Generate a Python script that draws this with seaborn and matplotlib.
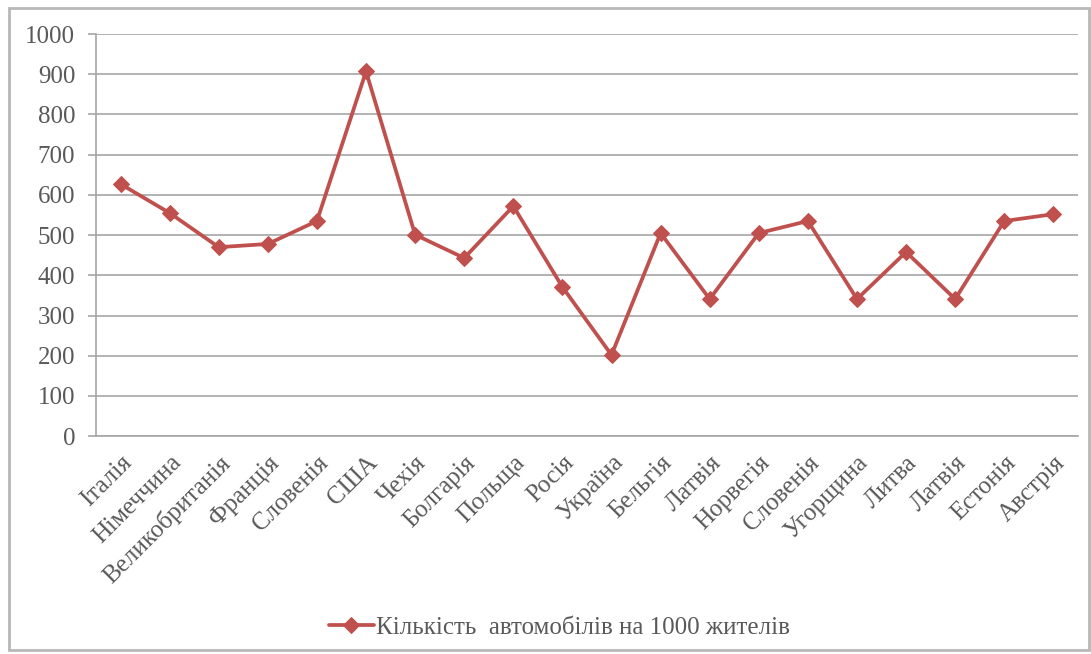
import matplotlib
matplotlib.use("Agg")
import matplotlib.pyplot as plt
import seaborn as sns
import pandas as pd
from matplotlib.patches import Rectangle

countries = ["Італія", "Німеччина", "Великобританія", "Франція", "Словенія", "США",
             "Чехія", "Болгарія", "Польща", "Росія", "Україна", "Бельгія", "Латвія",
             "Норвегія", "Словенія", "Угорщина", "Литва", "Латвія", "Естонія", "Австрія"]
cars_per_1000 = [627, 555, 470, 478, 535, 907, 501, 443, 572, 371, 202, 505, 341,
                 505, 535, 341, 458, 341, 535, 552]
series_name = "Кількість  автомобілів на 1000 жителів"
y_ticks = list(range(0, 1001, 100))

df = pd.DataFrame({"pos": range(len(countries)), "value": cars_per_1000})

sns.set_theme(style="white")
plt.rcParams['font.family'] = ['Liberation Serif', 'DejaVu Serif']

fig = plt.figure(figsize=(10.91, 6.54), dpi=100)
# chart frame like Excel
fig.patches.append(Rectangle((0.008, 0.006), 0.99, 0.982, transform=fig.transFigure,
                             fill=False, edgecolor="#b8b8b8", linewidth=2.0))
ax = fig.add_axes([0.088, 0.333, 0.9, 0.615])

sns.lineplot(data=df, x="pos", y="value", ax=ax, color="#c0504d", linewidth=2.7,
             marker="D", markersize=8, markeredgecolor="#c0504d", label=series_name)

ax.set_xlim(-0.5, len(countries) - 0.5)
ax.set_ylim(0, 1000)
ax.set_yticks(y_ticks)
ax.set_yticklabels([str(t) for t in y_ticks], fontsize=18, color="#595959")
ax.yaxis.grid(True, color="#a6a6a6", linewidth=1.2)
ax.set_axisbelow(True)

ax.set_xticks(range(len(countries)))
ax.set_xticklabels(countries, rotation=45, ha="right", rotation_mode="anchor",
                   fontsize=18, color="#595959")
ax.set_xticks([i - 0.5 for i in range(len(countries) + 1)], minor=True)
ax.tick_params(axis="x", which="major", length=0, pad=11)
ax.tick_params(axis="x", which="minor", length=6, color="#a6a6a6", width=1.2)
ax.tick_params(axis="y", length=6, color="#a6a6a6", width=1.2, left=True, pad=9)

for side in ["top", "right"]:
    ax.spines[side].set_visible(False)
for side in ["left", "bottom"]:
    ax.spines[side].set_color("#a6a6a6")
    ax.spines[side].set_linewidth(1.2)

ax.set_xlabel("")
ax.set_ylabel("")
leg = ax.legend(loc="center", bbox_to_anchor=(0.513, 0.04), bbox_transform=fig.transFigure,
                frameon=False, fontsize=18, handlelength=1.8, handletextpad=0.1)
for t in leg.get_texts():
    t.set_color("#595959")

plt.savefig("out.png", dpi=100)
